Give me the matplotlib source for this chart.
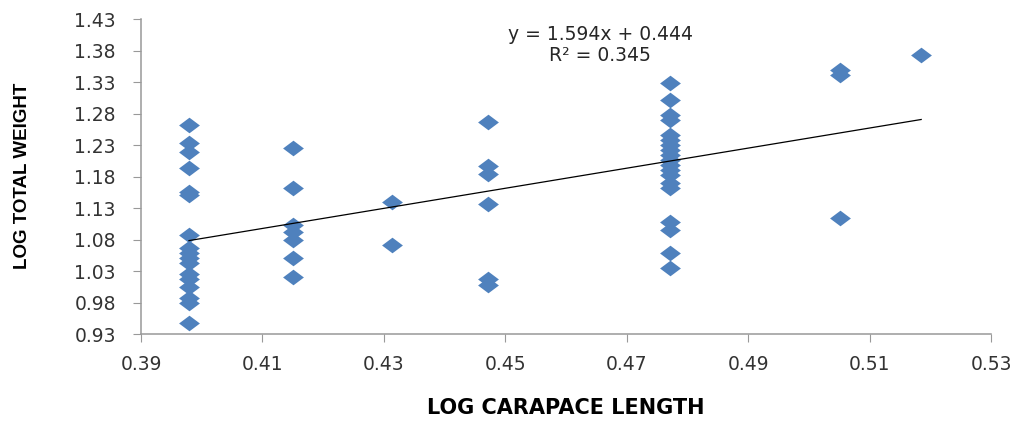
import numpy as np
import matplotlib
matplotlib.use("Agg")
import matplotlib.pyplot as plt

# log10 of carapace length classes (2.5 .. 3.3)
log_cl_levels = [0.3979, 0.4150, 0.4314, 0.4472, 0.4771, 0.5051, 0.5185]

# log total weight read for each length class
weights_25 = [1.262, 1.233, 1.219, 1.193, 1.155, 1.150, 1.087, 1.066, 1.058,
              1.050, 1.042, 1.026, 1.018, 1.005, 0.987, 0.979, 0.947]
weights_26 = [1.226, 1.161, 1.103, 1.092, 1.079, 1.050, 1.021]
weights_27 = [1.140, 1.071]
weights_28 = [1.267, 1.196, 1.184, 1.136, 1.018, 1.008]
weights_30 = [1.329, 1.301, 1.277, 1.269, 1.246, 1.238, 1.230, 1.222, 1.214,
              1.206, 1.198, 1.190, 1.182, 1.169, 1.161, 1.108, 1.095, 1.058, 1.034]
weights_32 = [1.349, 1.341, 1.114]
weights_33 = [1.373]

slope = 1.594
intercept = 0.444
r_squared = 0.345

x_ticks = [0.39, 0.41, 0.43, 0.45, 0.47, 0.49, 0.51, 0.53]
y_ticks = [0.93, 0.98, 1.03, 1.08, 1.13, 1.18, 1.23, 1.28, 1.33, 1.38, 1.43]

groups = [weights_25, weights_26, weights_27, weights_28, weights_30, weights_32, weights_33]
x = []
y = []
for lvl, ws in zip(log_cl_levels, groups):
    x += [lvl] * len(ws)
    y += ws
x = np.array(x)
y = np.array(y)

fig = plt.figure(figsize=(10.23, 4.23), dpi=100)
ax = fig.add_axes([141 / 1023, 1 - 334 / 423, 850 / 1023, 315 / 423])

diamond = [(-1, 0), (0, 0.75), (1, 0), (0, -0.75)]
ax.plot(x, y, linestyle='none', marker=diamond, markersize=15,
        color='#4F81BD', markeredgewidth=0)

xt = np.array([x.min(), x.max()])
ax.plot(xt, slope * xt + intercept, color='black', linewidth=0.9)

ax.text(0.54, 0.918, "y = %.3fx + %.3f\nR² = %.3f" % (slope, intercept, r_squared),
        transform=ax.transAxes, ha='center', va='center', fontsize=13.5,
        color='#262626', linespacing=1.15)

ax.set_xlim(0.39, 0.53)
ax.set_ylim(0.93, 1.43)
ax.set_xticks(x_ticks)
ax.set_yticks(y_ticks)
ax.set_xticklabels(["%.2f" % v for v in x_ticks])
ax.set_yticklabels(["%.2f" % v for v in y_ticks])

for s in ['top', 'right']:
    ax.spines[s].set_visible(False)
for s in ['left', 'bottom']:
    ax.spines[s].set_color('#999999')
    ax.spines[s].set_linewidth(1.1)
ax.tick_params(axis='x', direction='out', length=6, color='#999999',
               labelsize=13.5, labelcolor='#333333', pad=9)
ax.tick_params(axis='y', direction='out', length=6, color='#999999',
               labelsize=13.5, labelcolor='#333333', pad=12)

fig.text(566 / 1023, 1 - 408 / 423, "LOG CARAPACE LENGTH", ha='center', va='center',
         fontsize=15, fontweight='bold', color='black')
fig.text(23 / 1023, 1 - 176 / 423, "LOG TOTAL WEIGHT", ha='center', va='center',
         rotation=90, fontsize=13.5, fontweight='bold', family='Liberation Sans',
         color='black')

fig.savefig("out.png", dpi=100)
